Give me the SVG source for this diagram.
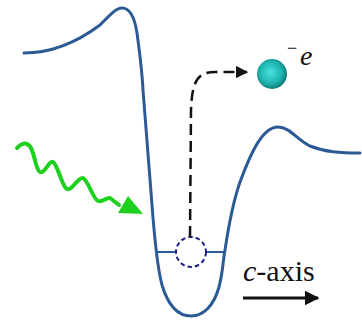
<svg xmlns="http://www.w3.org/2000/svg" width="362" height="323" viewBox="0 0 362 323">
<defs>
<style>
.pot{fill:none;stroke:#2b5a94;stroke-width:3;stroke-linecap:round}
.lvl{fill:none;stroke:#2b5a94;stroke-width:2}
.hole{fill:#fff;stroke:#1c1c8c;stroke-width:2;stroke-dasharray:4.5,3}
.path{fill:none;stroke:#111;stroke-width:2.5;stroke-dasharray:11,6}
.wave{fill:none;stroke:#1fd11f;stroke-width:4;stroke-linecap:round;stroke-linejoin:round}
.txt{fill:#111}
</style>
<radialGradient id="ball" cx="0.45" cy="0.45" r="0.6">
<stop offset="0" stop-color="#45e3e3"/>
<stop offset="0.6" stop-color="#1fb5b0"/>
<stop offset="1" stop-color="#0c6e6a"/>
</radialGradient>
<marker id="ah" viewBox="0 0 10 10" refX="9" refY="5" markerWidth="5" markerHeight="5" orient="auto" markerUnits="strokeWidth">
<path d="M0,0 L10,5 L0,10 z" fill="#111"/>
</marker>
</defs>
<g id="potential">
<path class="pot" d="M24,53 C55,53 80,40 100,25 C110,15 116,8 122,8 C131,8 135,20 137,33 C140,55 142,70 143,90 L152,205 C155,245 158,270 162,285 C168,305 178,316 191,316 C204,316 214,305 219,287 C223,272 223,260 225,250 C228,230 232,205 240,182 C250,155 262,127 278,127 C290,127 297,140 310,146 C325,152 340,153 360,153"/>
</g>
<g id="level">
<line class="lvl" x1="157" y1="252" x2="225" y2="252"/>
</g>
<g id="hole">
<circle class="hole" cx="191" cy="252" r="15"/>
</g>
<g id="electron">
<circle cx="272" cy="74" r="15" fill="url(#ball)"/>
<text class="txt" x="300" y="65" font-family="'Liberation Serif', 'DejaVu Serif', serif" font-size="28" font-style="italic">e</text>
<text class="txt" x="287" y="54" font-family="'Liberation Serif', 'DejaVu Serif', serif" font-size="18">−</text>
</g>
<g id="photon">
<path class="wave" d="M17,148 C22,143 27,141 31,148 C35,156 36,170 40,172 C45,174 49,160 53,162 C58,165 62,187 67,189 C72,191 78,177 83,178 C88,180 93,199 98,201 C103,203 106,197 110,198 L119,205"/>
<path d="M128,196 L143,214 L118,213 z" fill="#1fd11f"/>
</g>
<g id="axis">
<text class="txt" x="243" y="281" font-family="'Liberation Serif', 'DejaVu Serif', serif" font-size="30"><tspan font-style="italic">c</tspan>-axis</text>
<line x1="243" y1="298" x2="318" y2="298" stroke="#111" stroke-width="3" marker-end="url(#ah)"/>
</g>
<g id="connectors">
<path class="path" d="M190,237 L191,110 C192,82 197,72 215,72 L247,72" marker-end="url(#ah)"/>
</g>
</svg>
